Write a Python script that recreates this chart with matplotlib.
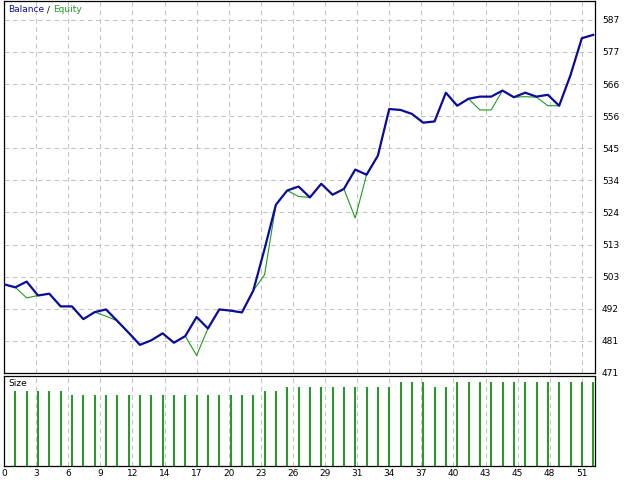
import numpy as np
import matplotlib
matplotlib.use('Agg')
import matplotlib.pyplot as plt

# balance / equity after each closed trade (trade 0 = deposit)
balance = [500.0, 499.0, 500.9, 496.3, 496.9, 492.7, 492.7, 488.5, 490.8, 491.7,
           487.9, 484.0, 480.0, 481.5, 483.8, 480.7, 482.9, 489.2, 485.4, 491.7,
           491.3, 490.7, 497.9, 511.7, 526.3, 531.0, 532.3, 528.7, 533.2, 529.6,
           531.5, 537.9, 536.2, 542.5, 557.9, 557.6, 556.3, 553.4, 553.8, 563.3,
           559.0, 561.3, 562.0, 562.0, 564.0, 561.8, 563.3, 562.0, 562.6, 559.0,
           569.1, 581.3, 582.4]
equity = [500.0, 499.0, 495.5, 496.3, 496.9, 492.7, 492.7, 488.5, 490.8, 489.5,
          487.9, 484.0, 480.0, 481.5, 483.8, 480.7, 482.9, 476.5, 485.4, 491.7,
          491.3, 490.7, 497.9, 503.2, 526.3, 531.0, 529.0, 528.7, 533.2, 529.6,
          531.5, 521.9, 536.2, 542.5, 557.9, 557.6, 556.3, 553.4, 553.8, 563.3,
          559.0, 561.3, 557.6, 557.6, 564.0, 561.8, 562.0, 561.8, 559.0, 559.0,
          569.1, 581.3, 582.4]
# lot size of each trade (trades 1..52)
size = [0.17, 0.17, 0.17, 0.17, 0.17,
        0.16, 0.16, 0.16, 0.16, 0.16, 0.16, 0.16, 0.16, 0.16, 0.16, 0.16, 0.16,
        0.16, 0.16, 0.16, 0.16, 0.16,
        0.17, 0.17,
        0.18, 0.18, 0.18, 0.18, 0.18, 0.18, 0.18, 0.18, 0.18, 0.18,
        0.19, 0.19, 0.19,
        0.18, 0.18,
        0.19, 0.19, 0.19, 0.19, 0.19, 0.19, 0.19, 0.19, 0.19, 0.19, 0.19, 0.19, 0.19]

y_labels = ['471', '481', '492', '503', '513', '524', '534', '545', '556', '566', '577', '587']
x_labels = ['0', '3', '6', '9', '12', '14', '17', '20', '23', '26', '29', '31', '34',
            '37', '40', '43', '45', '48', '51']

blue = '#0c0c9c'
green = '#1f9a1f'
grid_kw = dict(color='#c4c4c4', lw=0.75, ls=(0, (4.5, 3.5)))

W, H = 640, 480
fig = plt.figure(figsize=(6.4, 4.8), dpi=100)

def px_axes(x0, y0, x1, y1):
    return fig.add_axes([x0 / W, 1 - y1 / H, (x1 - x0) / W, (y1 - y0) / H])

ax = px_axes(4, 1, 595, 373)
axs = px_axes(4, 376, 595, 466)

px_unit = 11.33  # pixels per trade
grid_px = 32.1
xmax = 591 / px_unit
xgrid = np.arange(len(x_labels)) * grid_px / px_unit

# main chart
y_step = 10.6
y0 = 470.75
ygrid = y0 + y_step * np.arange(len(y_labels))
per_px = y_step / grid_px
ax.set_ylim(y0 - 0.05, y0 + 372 * per_px)
ax.set_xlim(0, xmax)

x = np.arange(len(balance))
ax.plot(x, equity, color=green, lw=0.8, zorder=3)
ax.plot(x, balance, color=blue, lw=1.6, zorder=4)

ax.set_yticks(ygrid)
ax.set_yticklabels(y_labels)
ax.yaxis.tick_right()
ax.set_xticks(xgrid)
ax.set_xticklabels([])
ax.tick_params(length=0, labelsize=6.5, pad=5)
ax.grid(True, **grid_kw)

# size chart
xs = np.arange(1, len(size) + 1)
axs.vlines(xs, 0, size, color=green, lw=1.4)
axs.set_xlim(0, xmax)
axs.set_ylim(0, 90 / 441)
axs.set_yticks([])
axs.set_xticks(xgrid)
axs.set_xticklabels(x_labels)
axs.tick_params(length=0, labelsize=6.5, pad=2)
axs.grid(True, axis='x', **grid_kw)

for a in (ax, axs):
    a.set_axisbelow(True)
    for s in a.spines.values():
        s.set_linewidth(0.9)
        s.set_color('black')

# "Balance / Equity" header in two colours
t1 = fig.text(8 / W, 1 - 10 / H, 'Balance', color=blue, fontsize=6.5, va='center')
t2 = ax.annotate(' / ', xy=(1, 0), xycoords=t1, va='bottom', fontsize=6.5, color='black')
ax.annotate('Equity', xy=(1, 0), xycoords=t2, va='bottom', fontsize=6.5, color=green)
fig.text(8 / W, 1 - 383 / H, 'Size', fontsize=6.5, va='center')

fig.savefig('out.png', dpi=100, facecolor='white')
